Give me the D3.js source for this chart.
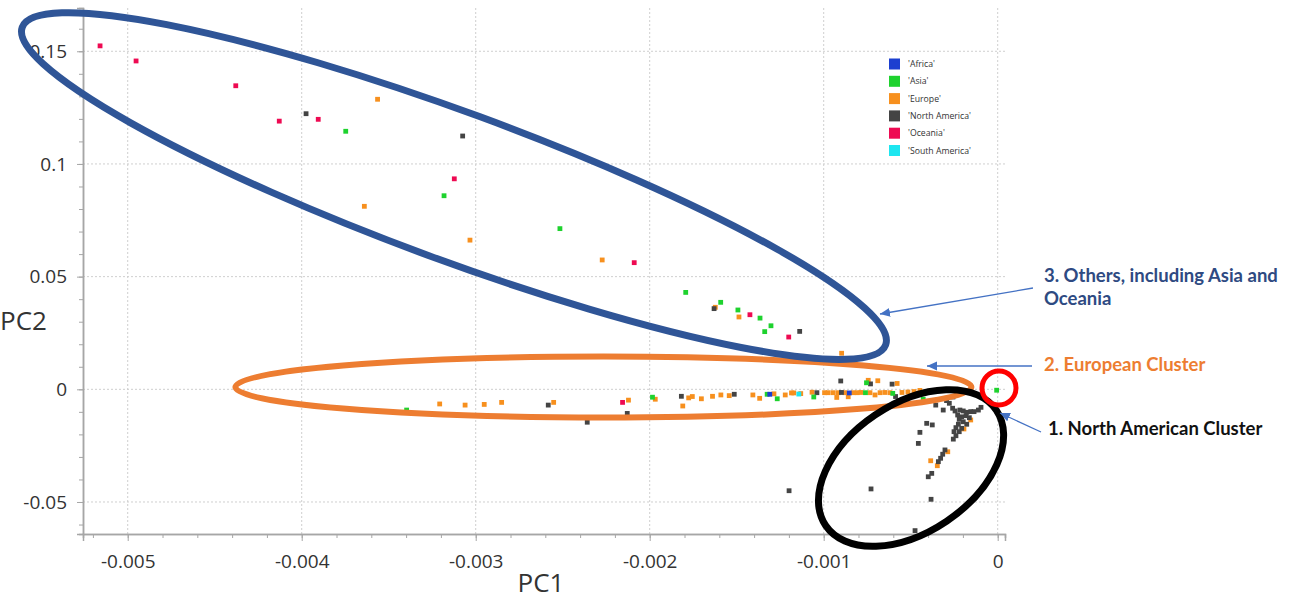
<!DOCTYPE html>
<html lang="en">
<head>
<meta charset="utf-8">
<title>PCA – PC1 vs PC2</title>
<script src="https://cdn.jsdelivr.net/npm/d3@7"></script>
<style>
  html, body { margin: 0; padding: 0; background: #fff; }
  #chart { width: 1294px; height: 599px; }
  svg { display: block; font-family: "Open Sans", "Noto Sans", sans-serif; }
</style>
</head>
<body>
<div id="chart"></div>
<script>
// -------------------- dados (PC1, PC2) por continente --------------------
const regions = ["'Africa'", "'Asia'", "'Europe'", "'North America'", "'Oceania'", "'South America'"];
const regionColors = ["#1c3fd0", "#1ed22e", "#f7901e", "#444444", "#ee0a52", "#1ee6f0"];

const africa = [[-0.001310, -0.0022], [-0.000853, -0.0016]];

const asia = [
  [-0.003747, 0.1145], [-0.003182, 0.0859], [-0.002516, 0.0713], [-0.001793, 0.0430],
  [-0.001592, 0.0386], [-0.001493, 0.0352], [-0.001366, 0.0316], [-0.001303, 0.0282],
  [-0.001339, 0.0256], [-0.003397, -0.0092], [-0.001984, -0.0035], [-0.001325, -0.0022],
  [-0.001267, -0.0042], [-0.001057, -0.0034], [-0.000760, -0.0015], [-0.000754, 0.0029],
  [-0.000603, -0.0018], [-0.000428, -0.0044], [-0.000006, -0.0004]
];

const europe = [
  [-0.003564, 0.1287], [-0.003640, 0.0812], [-0.003033, 0.0662], [-0.002273, 0.0574],
  [-0.001623, 0.0364], [-0.001487, 0.0321], [-0.000897, 0.0160],
  [-0.003207, -0.0065], [-0.003061, -0.0070], [-0.002951, -0.0067], [-0.002851, -0.0058],
  [-0.002552, -0.0058], [-0.002122, -0.0048], [-0.001968, -0.0044], [-0.001810, -0.0074],
  [-0.001776, -0.0038], [-0.001755, -0.0032], [-0.001703, -0.0042], [-0.001639, -0.0031],
  [-0.001591, -0.0025], [-0.001543, -0.0028], [-0.001407, -0.0025], [-0.001368, -0.0040],
  [-0.001286, -0.0020], [-0.001221, -0.0025], [-0.001185, -0.0016], [-0.001172, -0.0016],
  [-0.001132, -0.0019], [-0.001067, -0.0013], [-0.000995, -0.0015], [-0.000974, -0.0015],
  [-0.000945, -0.0015], [-0.000925, -0.0036], [-0.000916, -0.0015], [-0.000878, -0.0015],
  [-0.000859, -0.0033], [-0.000830, -0.0015], [-0.000807, -0.0015], [-0.000786, -0.0014],
  [-0.000744, 0.0040], [-0.000689, 0.0038], [-0.000734, -0.0015], [-0.000705, -0.0025],
  [-0.000676, -0.0015], [-0.000648, -0.0014], [-0.000619, -0.0015], [-0.000578, 0.0026],
  [-0.000550, -0.0014], [-0.000516, -0.0012], [-0.000481, -0.0010], [-0.000447, -0.0005],
  [-0.000155, -0.0136], [-0.000194, -0.0176], [-0.000287, -0.0277], [-0.000385, -0.0317],
  [-0.000347, -0.0339]
];

const northAmerica = [
  [-0.003975, 0.1223], [-0.003075, 0.1124], [-0.001630, 0.0358], [-0.001138, 0.0257],
  [-0.002583, -0.0070], [-0.002359, -0.0146], [-0.002129, -0.0107], [-0.001818, -0.0031],
  [-0.001514, -0.0022], [-0.001039, -0.0015], [-0.000902, 0.0037], [-0.000898, -0.0014],
  [-0.000731, 0.0024], [-0.000607, 0.0023], [-0.000587, -0.0032],
  [-0.000356, -0.0070], [-0.000278, -0.0062], [-0.000313, -0.0092], [-0.000259, -0.0084],
  [-0.000245, -0.0096], [-0.000217, -0.0092], [-0.000198, -0.0096], [-0.000178, -0.0102],
  [-0.000155, -0.0099], [-0.000136, -0.0099], [-0.000111, -0.0092], [-0.000096, -0.0080],
  [-0.000230, -0.0114], [-0.000207, -0.0122], [-0.000182, -0.0117], [-0.000163, -0.0126],
  [-0.000221, -0.0133], [-0.000198, -0.0144], [-0.000178, -0.0155], [-0.000226, -0.0155],
  [-0.000207, -0.0173], [-0.000240, -0.0170], [-0.000251, -0.0188], [-0.000221, -0.0188],
  [-0.000240, -0.0206], [-0.000255, -0.0221], [-0.000408, -0.0151], [-0.000376, -0.0158],
  [-0.000447, -0.0191], [-0.000456, -0.0240], [-0.000303, -0.0269], [-0.000316, -0.0288],
  [-0.000328, -0.0306], [-0.000341, -0.0321], [-0.000379, -0.0373], [-0.000399, -0.0388],
  [-0.000383, -0.0488], [-0.000728, -0.0442], [-0.001199, -0.0450], [-0.000475, -0.0627],
  [-0.000257, -0.0034], [-0.000294, -0.0050]
];

const oceania = [
  [-0.005159, 0.1524], [-0.004952, 0.1457], [-0.004379, 0.1347], [-0.004129, 0.1190],
  [-0.003905, 0.1198], [-0.003123, 0.0934], [-0.002089, 0.0562], [-0.001424, 0.0331],
  [-0.001201, 0.0232], [-0.002156, -0.0058]
];

const southAmerica = [[-0.001143, -0.0021]];

const xTicks = [-0.005, -0.004, -0.003, -0.002, -0.001, 0];
const yTicks = [-0.05, 0, 0.05, 0.1, 0.15];

// -------------------- desenho --------------------
const W = 1294, H = 599;
const FONT = "'Open Sans', 'Noto Sans', sans-serif";
const svg = d3.select("#chart").append("svg")
  .attr("width", W).attr("height", H)
  .attr("viewBox", `0 0 ${W} ${H}`);

const x = d3.scaleLinear().domain([-0.005257, 0.000042]).range([83, 1005]);
const y = d3.scaleLinear().domain([-0.0642, 0.1692]).range([534, 8]);

// grade pontilhada
const grid = svg.append("g").attr("stroke", "#cfcfcf").attr("stroke-dasharray", "2,2");
grid.selectAll("line.v").data(xTicks).join("line")
  .attr("x1", d => x(d)).attr("x2", d => x(d))
  .attr("y1", y.range()[1]).attr("y2", y.range()[0]);
grid.selectAll("line.h").data(yTicks).join("line")
  .attr("x1", x.range()[0]).attr("x2", x.range()[1])
  .attr("y1", d => y(d)).attr("y2", d => y(d));

// eixos (menores + maiores)
const xMinor = d3.range(-26, 1).map(k => k * 0.0002);
const yMinor = d3.range(-6, 17).map(k => k * 0.01);

function styleAxis(g) {
  g.attr("font-family", FONT);
  g.select(".domain").attr("stroke", "#a6a6a6").attr("stroke-width", 1.5);
  g.selectAll(".tick line").attr("stroke", "#a6a6a6");
  g.selectAll("text").attr("fill", "#333").attr("font-size", "19px");
}

svg.append("g").attr("transform", `translate(0,${y.range()[0]})`)
  .call(d3.axisBottom(x).tickValues(xMinor).tickSize(4).tickFormat(""))
  .call(styleAxis);
svg.append("g").attr("transform", `translate(0,${y.range()[0]})`)
  .call(d3.axisBottom(x).tickValues(xTicks).tickSize(7).tickPadding(14)
    .tickFormat(d => String(+d.toFixed(3))))
  .call(styleAxis);

svg.append("g").attr("transform", `translate(${x.range()[0]},0)`)
  .call(d3.axisLeft(y).tickValues(yMinor).tickSize(4).tickFormat(""))
  .call(styleAxis);
svg.append("g").attr("transform", `translate(${x.range()[0]},0)`)
  .call(d3.axisLeft(y).tickValues(yTicks).tickSize(6).tickPadding(10)
    .tickFormat(d => String(+d.toFixed(2))))
  .call(styleAxis);

// titulos dos eixos
svg.append("text").attr("x", 541).attr("y", 592).attr("text-anchor", "middle")
  .attr("font-size", "26px").attr("fill", "#333").text("PC1");
svg.append("text").attr("x", 0).attr("y", 330)
  .attr("font-size", "26px").attr("fill", "#333").text("PC2");

// pontos
const series = [africa, asia, europe, northAmerica, oceania, southAmerica];
const points = [];
series.forEach((arr, i) => arr.forEach(p => points.push({ pc1: p[0], pc2: p[1], c: regionColors[i] })));
const order = [2, 3, 1, 4, 0, 5]; // europa por baixo
points.sort((a, b) => order.indexOf(regionColors.indexOf(a.c)) - order.indexOf(regionColors.indexOf(b.c)));

const S = 4.8;
svg.append("g").selectAll("rect").data(points).join("rect")
  .attr("x", d => x(d.pc1) - S / 2).attr("y", d => y(d.pc2) - S / 2)
  .attr("width", S).attr("height", S)
  .attr("fill", d => d.c);

// legenda
const leg = svg.append("g").attr("transform", "translate(889,64)");
const li = leg.selectAll("g").data(regions).join("g")
  .attr("transform", (d, i) => `translate(0,${i * 17.3})`);
li.append("rect").attr("x", 0).attr("y", -5.5).attr("width", 11).attr("height", 11)
  .attr("fill", (d, i) => regionColors[i]);
li.append("text").attr("x", 19).attr("dy", "0.35em")
  .attr("font-size", "8.7px").attr("fill", "#333").text(d => d);

// -------------------- anotacoes --------------------
const ann = svg.append("g").attr("fill", "none");
ann.append("ellipse")
  .attr("cx", x(-0.002266)).attr("cy", y(0.00102)).attr("rx", 368).attr("ry", 30.5)
  .attr("stroke", "#ed7d31").attr("stroke-width", 6);
ann.append("ellipse")
  .attr("rx", 460).attr("ry", 74)
  .attr("transform", `translate(${x(-0.003125)},${y(0.0902)}) rotate(20.2)`)
  .attr("stroke", "#2f5597").attr("stroke-width", 7);
ann.append("ellipse")
  .attr("rx", 103).attr("ry", 64)
  .attr("transform", `translate(${x(-0.000498)},${y(-0.0349)}) rotate(-34)`)
  .attr("stroke", "#000").attr("stroke-width", 7);
ann.append("circle")
  .attr("cx", x(0.0000075)).attr("cy", y(0.00058)).attr("r", 17)
  .attr("stroke", "#ff0000").attr("stroke-width", 5);

svg.append("defs").append("marker")
  .attr("id", "ah").attr("markerUnits", "userSpaceOnUse")
  .attr("markerWidth", 12).attr("markerHeight", 10)
  .attr("refX", 10).attr("refY", 4.5).attr("orient", "auto")
  .append("path").attr("d", "M0,0 L10,4.5 L0,9 Z").attr("fill", "#4472c4");

const arrows = [
  [1033, 288, 880, 314],
  [1032, 366, 927, 366],
  [1041, 432, 1000, 413]
];
ann.selectAll("line.arrow").data(arrows).join("line")
  .attr("x1", d => d[0]).attr("y1", d => d[1]).attr("x2", d => d[2]).attr("y2", d => d[3])
  .attr("stroke", "#4472c4").attr("stroke-width", 1.3)
  .attr("marker-end", "url(#ah)");

const labels = [
  { t: "3. Others, including Asia and", x: 1044, y: 282, c: "#2e4a82" },
  { t: "Oceania", x: 1044, y: 305, c: "#2e4a82" },
  { t: "2. European Cluster", x: 1044, y: 370.5, c: "#ed7d31" },
  { t: "1. North American Cluster", x: 1048, y: 435, c: "#111" }
];
svg.append("g").selectAll("text").data(labels).join("text")
  .attr("x", d => d.x).attr("y", d => d.y)
  .attr("font-family", "Lato, 'Open Sans', sans-serif")
  .attr("font-weight", 700).attr("font-size", "18.5px")
  .attr("fill", d => d.c).text(d => d.t);
</script>
</body>
</html>
